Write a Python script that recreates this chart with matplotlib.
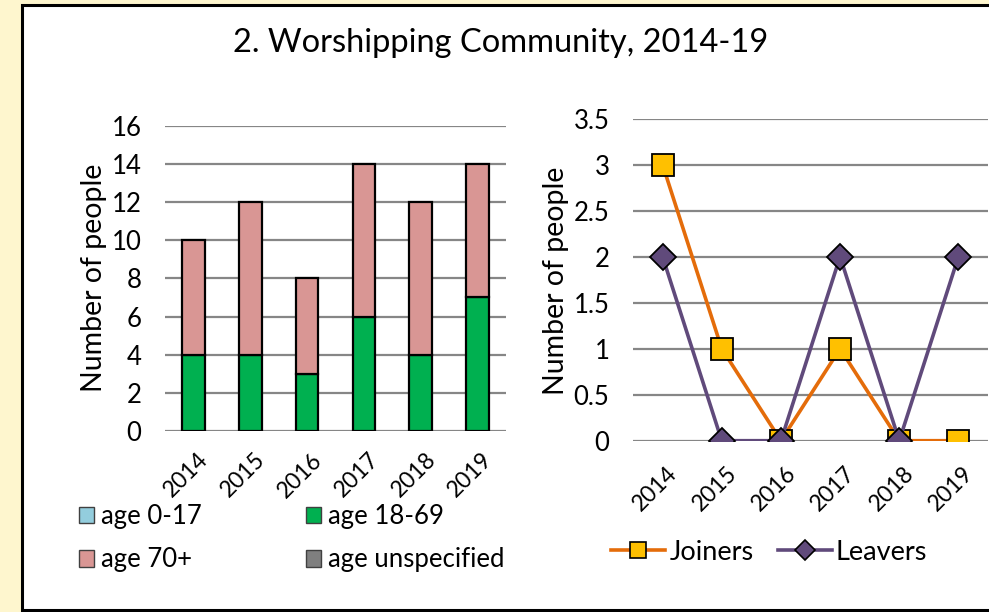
import matplotlib
matplotlib.use('Agg')
import numpy as np
import matplotlib.pyplot as plt
import matplotlib.transforms as mtransforms
from matplotlib.patches import Rectangle, Patch
from matplotlib.lines import Line2D

plt.rcParams['font.family'] = ['Lato', 'DejaVu Sans']

# ---- data ----
years = ['2014', '2015', '2016', '2017', '2018', '2019']
age_0_17 = [0, 0, 0, 0, 0, 0]
age_18_69 = [4, 4, 3, 6, 4, 7]
age_70p = [6, 8, 5, 8, 8, 7]
age_unspec = [0, 0, 0, 0, 0, 0]
joiners = [3, 1, 0, 1, 0, 0]
leavers = [2, 0, 0, 2, 0, 2]

C_BLUE = '#93CDDD'
C_GREEN = '#00B050'
C_PINK = '#D99694'
C_GREY = '#7F7F7F'
C_ORANGE = '#E46C0A'
C_GOLD = '#FFC000'
C_PURPLE = '#604A7B'
GRID = '#868686'
FS = 18.5

W, H = 989, 612
fig = plt.figure(figsize=(W / 100, H / 100), dpi=100)
fig.patch.set_facecolor('#FEF6CE')

# white chart panel with black frame
fig.patches.append(Rectangle((22 / W, 1 - 610 / H), 1.2, 605 / H, transform=fig.transFigure,
                             facecolor='white', edgecolor='black', lw=2.2, zorder=-5))

fig.text(501 / W, 1 - 43 / H, '2. Worshipping Community, 2014-19', ha='center', va='center',
         fontsize=23.5)


def style(ax, ymax, step, xpad):
    for s in ax.spines.values():
        s.set_visible(False)
    ax.set_facecolor('none')
    ax.set_ylim(0, ymax)
    ax.set_yticks(np.arange(0, ymax + step / 2, step))
    ax.yaxis.grid(True, color=GRID, lw=1.6)
    ax.set_axisbelow(True)
    ax.tick_params(length=0, labelsize=FS)
    ax.tick_params(axis='y', pad=17)
    ax.set_xlim(-0.5, len(years) - 0.5)
    ax.set_xticks(np.arange(len(years)))
    ax.set_xticklabels(years, rotation=45, ha='right', va='top', rotation_mode='anchor')
    ax.tick_params(axis='x', pad=xpad, labelsize=16.5)
    shift = mtransforms.ScaledTranslation(4 / 100, 0, fig.dpi_scale_trans)
    for lab in ax.get_xticklabels():
        lab.set_transform(lab.get_transform() + shift)


# ---- left: stacked bars ----
ax1 = fig.add_axes([165 / W, 1 - 431 / H, 341 / W, (431 - 125.7) / H])
x = np.arange(len(years))
bottom = np.zeros(len(years))
for vals, col in [(age_0_17, C_BLUE), (age_18_69, C_GREEN), (age_70p, C_PINK), (age_unspec, C_GREY)]:
    v = np.array(vals, dtype=float)
    ax1.bar(x, v, 0.4, bottom=bottom, color=col, edgecolor='black',
            linewidth=[1.6 if t > 0 else 0 for t in v], zorder=3)
    bottom += v
style(ax1, 16, 2, 13)
ax1.set_yticklabels([f'{int(t)}' for t in np.arange(0, 17, 2)])
fig.text(94 / W, 1 - 278 / H, 'Number of people', rotation=90, ha='center', va='center', fontsize=20.5)

leg_kw = dict(loc='upper left', frameon=False, fontsize=FS, borderpad=0, borderaxespad=0,
              handlelength=0.6, handleheight=0.6, handletextpad=0.25, labelspacing=0.72)
fig.legend([Patch(facecolor=C_BLUE, edgecolor='#404040', lw=1),
            Patch(facecolor=C_PINK, edgecolor='#404040', lw=1)],
           ['age 0-17', 'age 70+'], bbox_to_anchor=(79 / W, 1 - 504 / H), **leg_kw)
fig.legend([Patch(facecolor=C_GREEN, edgecolor='#404040', lw=1),
            Patch(facecolor=C_GREY, edgecolor='#404040', lw=1)],
           ['age 18-69', 'age unspecified'], bbox_to_anchor=(306 / W, 1 - 504 / H), **leg_kw)

# ---- right: joiners / leavers ----
ax2 = fig.add_axes([633 / W, 1 - 440.7 / H, 355 / W, 322 / H])
ax2.plot(x, joiners, color=C_ORANGE, lw=2.6, marker='s', ms=15.5, mfc=C_GOLD, mec='black',
         mew=1.3, zorder=3, label='Joiners')
ax2.plot(x, leavers, color=C_PURPLE, lw=2.6, marker='D', ms=13.5, mfc=C_PURPLE, mec='black',
         mew=1.3, zorder=4, label='Leavers')
style(ax2, 3.5, 0.5, 15.5)
ax2.set_yticklabels(['0', '0.5', '1', '1.5', '2', '2.5', '3', '3.5'])
fig.text(556 / W, 1 - 281 / H, 'Number of people', rotation=90, ha='center', va='center', fontsize=20.5)

h1 = Line2D([], [], color=C_ORANGE, lw=2.6, marker='s', ms=12, mfc=C_GOLD, mec='black', mew=1.2)
h2 = Line2D([], [], color=C_PURPLE, lw=2.6, marker='D', ms=10, mfc=C_PURPLE, mec='black', mew=1.2)
fig.legend([h1, h2], ['Joiners', 'Leavers'], loc='center left',
           bbox_to_anchor=(611 / W, 1 - 552 / H), frameon=False, fontsize=FS + 1, ncol=2,
           borderpad=0, borderaxespad=0, handlelength=2.0, handletextpad=0.15,
           columnspacing=0.9)

fig.savefig('out.png', dpi=100, facecolor=fig.get_facecolor())
